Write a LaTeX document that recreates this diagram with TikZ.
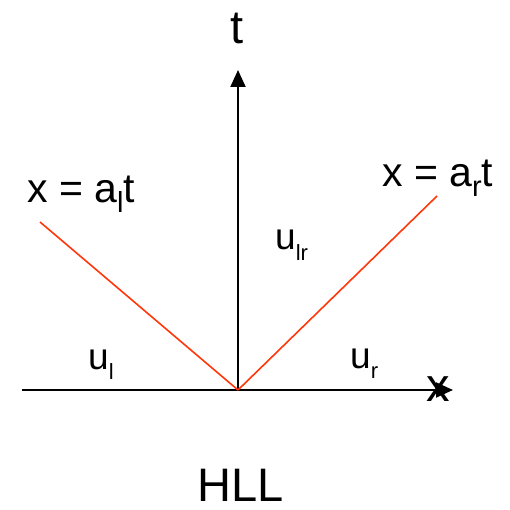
\documentclass[tikz,border=0pt]{standalone}
\usepackage{fontspec}
\setmainfont{Liberation Sans}
\usetikzlibrary{arrows.meta}
\definecolor{hllred}{RGB}{255,55,10}
\newcommand{\mysub}[3]{\raisebox{-#2pt}{\fontsize{#1}{#1}\selectfont #3}}
\begin{document}
\begin{tikzpicture}[x=1pt,y=1pt,
  axis/.style={line width=2pt,-{Triangle[length=17pt,width=15pt]}},
  wave/.style={hllred,line width=1.6pt},
  lbl/.style={inner sep=0pt,anchor=base west},
  big/.style={font=\fontsize{47}{50}\selectfont},
  mid/.style={font=\fontsize{41}{44}\selectfont},
  small/.style={font=\fontsize{37}{40}\selectfont}]
\useasboundingbox (0,0) rectangle (509,510);
\coordinate (O) at (238,120);
\coordinate (xs) at (22,120);
\coordinate (xe) at (453,120);
\coordinate (te) at (238,440);
\coordinate (L) at (40,288);
\coordinate (R) at (437,314);
\draw[axis] (xs) -- (xe);
\draw[axis] (O) -- (te);
\draw[wave] (O) -- (L);
\draw[wave] (O) -- (R);
\node[inner sep=0pt,anchor=base,big] (tl) at (237,466) {t};
\node[inner sep=0pt,anchor=base,big] (xl) at (438,108) {x};
\node[lbl,mid] (al) at (27,307) {x = a\mysub{29}{10}{l}t};
\node[lbl,mid] (ar) at (382,323) {x = a\mysub{29}{10}{r}t};
\node[lbl,small] (ulr) at (275,260) {u\mysub{22}{11}{lr}};
\node[lbl,small] (ul) at (88,140) {u\mysub{22}{10}{l}};
\node[lbl,small] (ur) at (350,141) {u\mysub{22}{10}{r}};
\node[inner sep=0pt,anchor=base,big] (hll) at (241,9) {HLL};
\end{tikzpicture}
\end{document}
